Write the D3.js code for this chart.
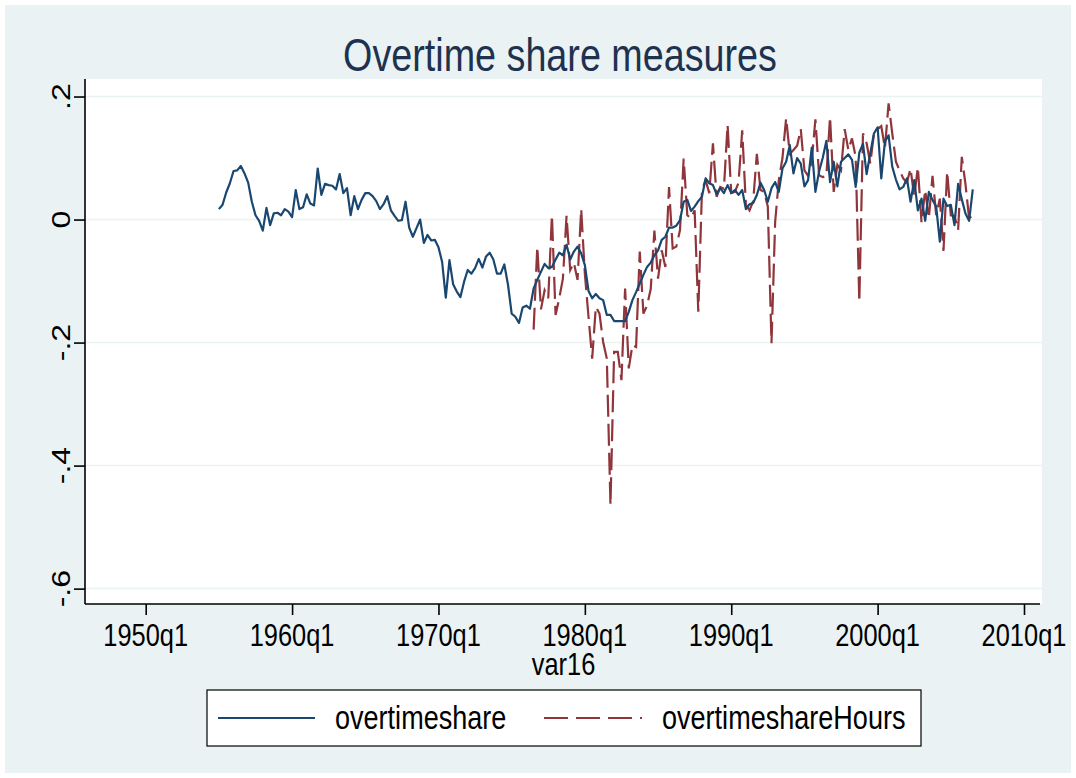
<!DOCTYPE html>
<html>
<head>
<meta charset="utf-8">
<script src="https://cdn.jsdelivr.net/npm/d3@7"></script>
<style>
  html, body { margin: 0; padding: 0; background: #fff; }
  text { font-family: "Liberation Sans", Arial, sans-serif; }
</style>
</head>
<body>
<svg width="1076" height="778"></svg>
<script>
// quarterly series, first value = start quarter
const blueStart = 1955;     // 1955q1
const overtimeshare = [
  .017, .024, .044, .059,   .079, .080, .087, .075,   .060, .029, .007, -.002,
  -.018, .019, -.009, .010, .011, .007, .017, .013,   .004, .048, .017, .020,
  .041, .026, .023, .083,   .040, .058, .056, .055,   .049, .074, .043, .051,
  .007, .038, .017, .032,   .043, .043, .038, .030,   .017, .025, .038, .015,
  .006, -.002, -.001, .029, -.013, -.028, -.014, .000, -.038, -.025, -.034, -.033,
  -.045, -.069, -.127, -.066, -.105, -.117, -.126, -.101, -.082, -.088, -.079, -.064,
  -.078, -.060, -.054, -.065, -.088, -.088, -.073, -.106, -.153, -.158, -.168, -.143,
  -.140, -.145, -.112, -.098, -.085, -.072, -.079, -.077, -.065, -.054, -.058, -.041,
  -.065, -.052, -.044, -.055, -.074, -.116, -.128, -.121, -.128, -.131, -.155, -.155,
  -.165, -.165, -.165, -.165, -.150, -.131, -.118, -.104, -.090, -.077, -.070, -.058,
  -.050, -.033, -.028, -.013, -.013, -.010, -.001, .029, .032, .014, .021, .030,
  .037, .067, .059, .056,   .041, .051, .043, .056,   .043, .048, .040, .048,
  .017, .025, .027, .040,   .060, .048, .029, .051,   .061, .045, .083, .094,
  .121, .075, .100, .091,   .054, .064, .117, .045,   .078, .100, .128, .061,
  .094, .054, .094, .100,   .106, .097, .053, .109,   .123, .074, .108, .140,
  .150, .067, .127, .137,   .086, .065, .049, .053,   .067, .029, .064, .015,
  .034, -.002, .045, .032,  .021, -.036, .034, .022,  .024, -.009, .058, .033,
  .010, -.002, .049
];

const redStart = 1976.5;    // 1976q3
const overtimeshareHours = [
  -.179, -.044,
  -.146, -.115, -.128, .007,  -.155, -.128, -.096, .006,  -.082, -.070, -.098, .017,
  -.088, -.158, -.226, -.142, -.153, -.199, -.226, -.464, -.215, -.215, -.261, -.112,
  -.242, -.204, -.207, -.052, -.153, -.140, -.113, -.018, -.096, -.050, -.077, .053,
  -.047, -.044, -.017, .099,  .007, .002, .015, -.150,    .048, .064, .043, .124,
  .037, .053, .050, .154,     .043, .045, .060, .145,     .024, .015, .030, .107,
  .048, .045, .021, -.201,    -.004, .064, .100, .165,    .107, .113, .120, .147,
  .080, .071, .095, .163,     .072, .069, .071, .167,     .045, .089, .080, .147,
  .113, .132, .102, -.134,    .140, .124, .091, .140,     .147, .152, .116, .189,
  .140, .094, .080, .067,     .060, .083, .037, .085,     -.005, .048, .002, .071,
  .007, .034, -.051, .078,    .007, .006, -.017, .102,    .058, .002, .007
];

const xTicks = [1950, 1960, 1970, 1980, 1990, 2000, 2010];
const xTickLabels = ["1950q1", "1960q1", "1970q1", "1980q1", "1990q1", "2000q1", "2010q1"];
const yTicks = [0.2, 0, -0.2, -0.4, -0.6];
const yTickLabels = [".2", "0", "-.2", "-.4", "-.6"];

const seriesNames = ["overtimeshare", "overtimeshareHours"];
const colors = ["#1a476f", "#90353b"];

const svg = d3.select("svg");
const width = +svg.attr("width");
const height = +svg.attr("height");
const plot = {left: 85, right: 1042, top: 79, bottom: 604};
const squeeze = 0.82; // narrow-looking font

const x = d3.scaleLinear().domain([1945.853, 2011.093]).range([plot.left, 1040]);
const y = d3.scaleLinear().domain([-0.625, 0.2285]).range([plot.bottom, plot.top]);

// background
svg.append("rect").attr("x", 5).attr("y", 5)
  .attr("width", width - 10).attr("height", height - 10)
  .attr("fill", "#eaf2f3");
svg.append("rect").attr("x", plot.left).attr("y", plot.top)
  .attr("width", plot.right - plot.left).attr("height", plot.bottom - plot.top)
  .attr("fill", "#fff");

// helper for horizontally squeezed text
function label(px, py, str, size, anchor, rotate) {
  const t = svg.append("text")
    .attr("transform", rotate
      ? `translate(${px},${py}) rotate(-90) scale(1,${squeeze})`
      : `translate(${px},${py}) scale(${squeeze},1)`)
    .attr("text-anchor", anchor)
    .style("font-size", size + "px")
    .attr("fill", "#000")
    .text(str);
  return t;
}

// gridlines
svg.append("g").selectAll("line").data(yTicks).join("line")
  .attr("x1", plot.left).attr("x2", plot.right)
  .attr("y1", d => y(d)).attr("y2", d => y(d))
  .attr("stroke", "#eaf2f3").attr("stroke-width", 1.5);

// axes
const xAxis = d3.axisBottom(x).tickValues(xTicks).tickSize(11).tickFormat("");
const yAxis = d3.axisLeft(y).tickValues(yTicks).tickSize(11).tickFormat("");
const xg = svg.append("g").attr("transform", `translate(0,${plot.bottom})`).call(xAxis);
const yg = svg.append("g").attr("transform", `translate(${plot.left},0)`).call(yAxis);
[xg, yg].forEach(g => {
  g.select(".domain").attr("stroke", "#000").attr("stroke-width", 1.6);
  g.selectAll(".tick line").attr("stroke", "#000").attr("stroke-width", 1.6);
});
xg.select(".domain").attr("d", `M${plot.left},0H1040`);
yg.select(".domain").attr("d", `M0,${plot.top}V${plot.bottom}`);

xTicks.forEach((t, i) => label(x(t), 646, xTickLabels[i], 31, "middle", false));
yTicks.forEach((t, i) => label(70, y(t), yTickLabels[i], 32, "middle", true));

label((plot.left + plot.right) / 2, 675, "var16", 31, "middle", false);

svg.append("text")
  .attr("transform", `translate(560,71) scale(${squeeze},1)`)
  .attr("text-anchor", "middle")
  .style("font-size", "46px")
  .attr("fill", "#1e3250")
  .text("Overtime share measures");

// series
const blueData = overtimeshare.map((v, i) => ({t: blueStart + i / 4, v}));
const redData = overtimeshareHours.map((v, i) => ({t: redStart + i / 4, v}));

const line = d3.line().x(d => x(d.t)).y(d => y(d.v));

svg.append("path").datum(redData)
  .attr("d", line)
  .attr("fill", "none")
  .attr("stroke", colors[1])
  .attr("stroke-width", 2.2)
  .attr("stroke-dasharray", "22 7");

svg.append("path").datum(blueData)
  .attr("d", line)
  .attr("fill", "none")
  .attr("stroke", colors[0])
  .attr("stroke-width", 2.2)
  .attr("stroke-linejoin", "round");

// legend
svg.append("rect")
  .attr("x", 207).attr("y", 690).attr("width", 714).attr("height", 56)
  .attr("fill", "#fff").attr("stroke", "#000").attr("stroke-width", 1.2);

const legendItems = [
  {x1: 218, x2: 315, tx: 335, dash: null},
  {x1: 544, x2: 642, tx: 662, dash: "24 8"}
];
legendItems.forEach((it, i) => {
  svg.append("line")
    .attr("x1", it.x1).attr("x2", it.x2).attr("y1", 718).attr("y2", 718)
    .attr("stroke", colors[i]).attr("stroke-width", 2)
    .attr("stroke-dasharray", it.dash);
  label(it.tx, 729, seriesNames[i], 33, "start", false);
});
</script>
</body>
</html>
